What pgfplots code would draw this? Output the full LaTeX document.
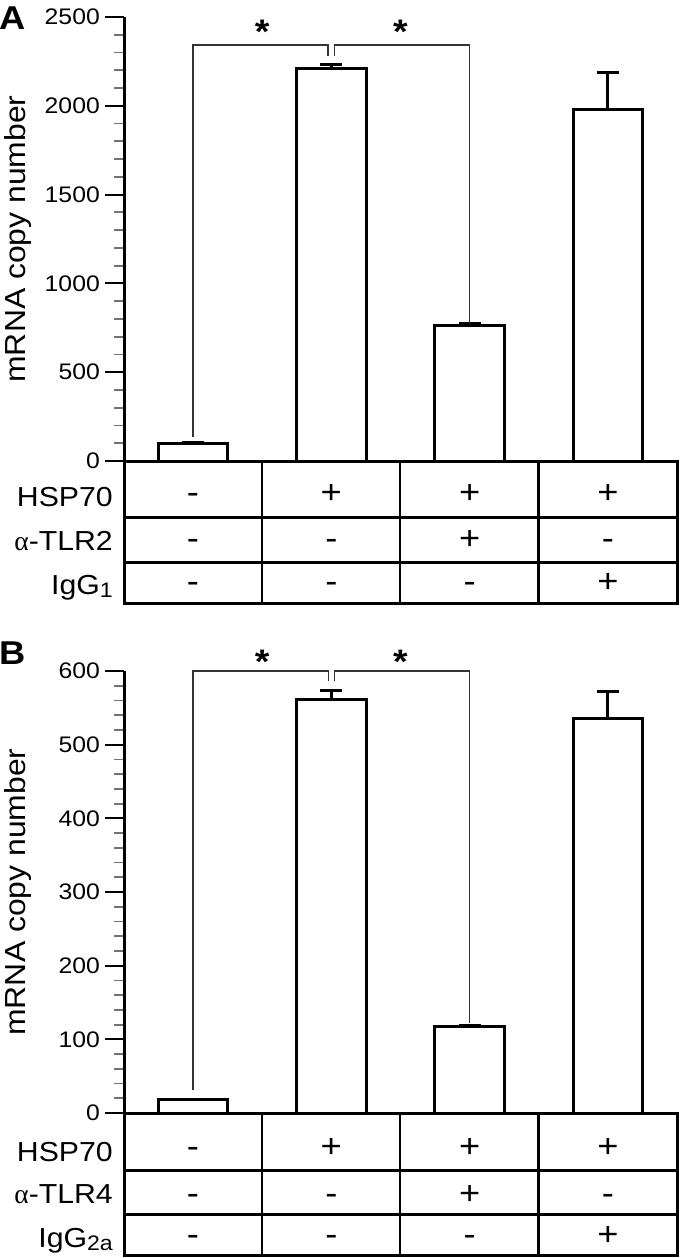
\documentclass[border=0pt]{standalone}
\usepackage{pgfplots}
\pgfplotsset{compat=1.18}
\usepackage{fontspec}
\setmainfont[FakeStretch=1.1]{Liberation Sans}
\newfontfamily\greekfont{Liberation Serif}
\newcommand{\tickfont}{\fontsize{22.5}{26}\selectfont}
\newcommand{\lblfont}{\fontsize{27.5}{33}\selectfont}
\newcommand{\symfont}{\fontsize{33}{36}\selectfont}
\newcommand{\subfont}{\fontsize{21}{24}\selectfont}
\newcommand{\ylblfont}{\fontsize{29}{33}\selectfont}
\newcommand{\sub}[1]{\raisebox{-3.5pt}{\subfont #1}}
\pgfplotsset{
  panel/.style={
    scale only axis, width=553pt,
    xmin=-0.5, xmax=3.5, ymin=0,
    axis x line*=bottom, axis y line*=left,
    axis line style={line width=3pt},
    xtick=\empty, minor y tick num=4,
    tick align=outside,
    major tick length=19pt, minor tick length=10pt,
    every major tick/.append style={line width=2pt, black},
    every minor tick/.append style={line width=1.8pt, black!55},
    yticklabel style={font=\tickfont, anchor=east, inner sep=0pt},
    yticklabel shift=5pt,
    /pgf/number format/assume math mode=true,
    /pgf/number format/1000 sep={},
    clip=false,
  },
  barstyle/.style={ybar, bar width=69.5pt, bar shift=0pt, fill=white, draw=black, line width=3pt,
    error bars/.cd, y dir=plus, y explicit,
    error bar style={line width=3pt, black},
    error mark options={line width=3pt, mark size=11pt, black, rotate=90}},
  brk/.style={line width=1.3pt, black!80, mark=none, sharp plot},
}
\begin{document}
\begin{tikzpicture}
\useasboundingbox (0pt,0pt) rectangle (680pt,-1258pt);
% ---------------- Panel A ----------------
\begin{axis}[panel, at={(124pt,-461pt)}, anchor=south west, height=444pt,
  ymax=2500, ytick={0,500,1000,1500,2000,2500}]
\addplot[barstyle] coordinates {(0,100) +- (0,3) (1,2210) +- (0,24) (2,765) +- (0,8) (3,1980) +- (0,205)};
\addplot[brk] coordinates {(0,135) (0,2342) (0.975,2342) (0.975,2282)};
\addplot[brk] coordinates {(1.025,2282) (1.025,2342) (2,2342) (2,778)};
\node[anchor=base, font=\bfseries\fontsize{34}{36}\selectfont] at (axis cs:0.5,2348) {*};
\node[anchor=base, font=\bfseries\fontsize{34}{36}\selectfont] at (axis cs:1.5,2348) {*};
\end{axis}
% ---------------- Panel B ----------------
\begin{axis}[panel, at={(124pt,-1113pt)}, anchor=south west, height=442pt,
  ymax=600, ytick={0,100,200,300,400,500,600}]
\addplot[barstyle] coordinates {(0,18) +- (0,1) (1,562) +- (0,11) (2,118) +- (0,1) (3,535) +- (0,37)};
\addplot[brk] coordinates {(0,31) (0,600) (0.978,600) (0.978,586)};
\addplot[brk] coordinates {(1.022,586) (1.022,600) (2,600) (2,122)};
\node[anchor=base, font=\bfseries\fontsize{34}{36}\selectfont] at (axis cs:0.5,597) {*};
\node[anchor=base, font=\bfseries\fontsize{34}{36}\selectfont] at (axis cs:1.5,597) {*};
\end{axis}
% ---------------- Tables ----------------
\foreach \top/\ra/\rb/\bot in {461/517/562/603, 1113/1170/1214/1255}{
  \draw[line width=3pt, line cap=rect] (124pt,-\top pt) -- (124pt,-\bot pt) -- (677pt,-\bot pt) -- (677pt,-\top pt);
  \draw[line width=3pt] (124pt,-\ra pt) -- (677pt,-\ra pt);
  \draw[line width=3pt] (124pt,-\rb pt) -- (677pt,-\rb pt);
  \foreach \xx in {262,400,538.5}{
    \draw[line width=2.6pt] (\xx pt,-\top pt) -- (\xx pt,-\bot pt);
  }
}
% Panel A table text
\node[anchor=base east, inner sep=0pt, font=\lblfont] at (113pt,-506pt) {HSP70};
\node[anchor=base east, inner sep=0pt, font=\lblfont] at (113pt,-550pt) {{\greekfont α}-TLR2};
\node[anchor=base east, inner sep=0pt, font=\lblfont] at (113pt,-594pt) {IgG\sub{1}};
\foreach \cx/\sa/\sb/\sc in {193/-/-/-, 331.3/+/-/-, 469.6/+/+/-, 608/+/-/+}{
  \node[anchor=base, font=\symfont] at (\cx pt,-503pt) {\sa};
  \node[anchor=base, font=\symfont] at (\cx pt,-549pt) {\sb};
  \node[anchor=base, font=\symfont] at (\cx pt,-592pt) {\sc};
}
% Panel B table text
\node[anchor=base east, inner sep=0pt, font=\lblfont] at (113pt,-1161pt) {HSP70};
\node[anchor=base east, inner sep=0pt, font=\lblfont] at (113pt,-1203pt) {{\greekfont α}-TLR4};
\node[anchor=base east, inner sep=0pt, font=\lblfont] at (113pt,-1247pt) {IgG\sub{2a}};
\foreach \cx/\sa/\sb/\sc in {193/-/-/-, 331.3/+/-/-, 469.6/+/+/-, 608/+/-/+}{
  \node[anchor=base, font=\symfont] at (\cx pt,-1157pt) {\sa};
  \node[anchor=base, font=\symfont] at (\cx pt,-1204pt) {\sb};
  \node[anchor=base, font=\symfont] at (\cx pt,-1245pt) {\sc};
}
% Axis labels and panel letters
\node[rotate=90, anchor=base, font=\ylblfont] at (25pt,-239pt) {mRNA copy number};
\node[rotate=90, anchor=base, font=\ylblfont] at (25pt,-892pt) {mRNA copy number};
\node[anchor=west, inner sep=0pt, font=\bfseries\fontsize{33}{36}\selectfont] at (-1pt,-18pt) {A};
\node[anchor=west, inner sep=0pt, font=\bfseries\fontsize{33}{36}\selectfont] at (-1pt,-653pt) {B};
\end{tikzpicture}
\end{document}
